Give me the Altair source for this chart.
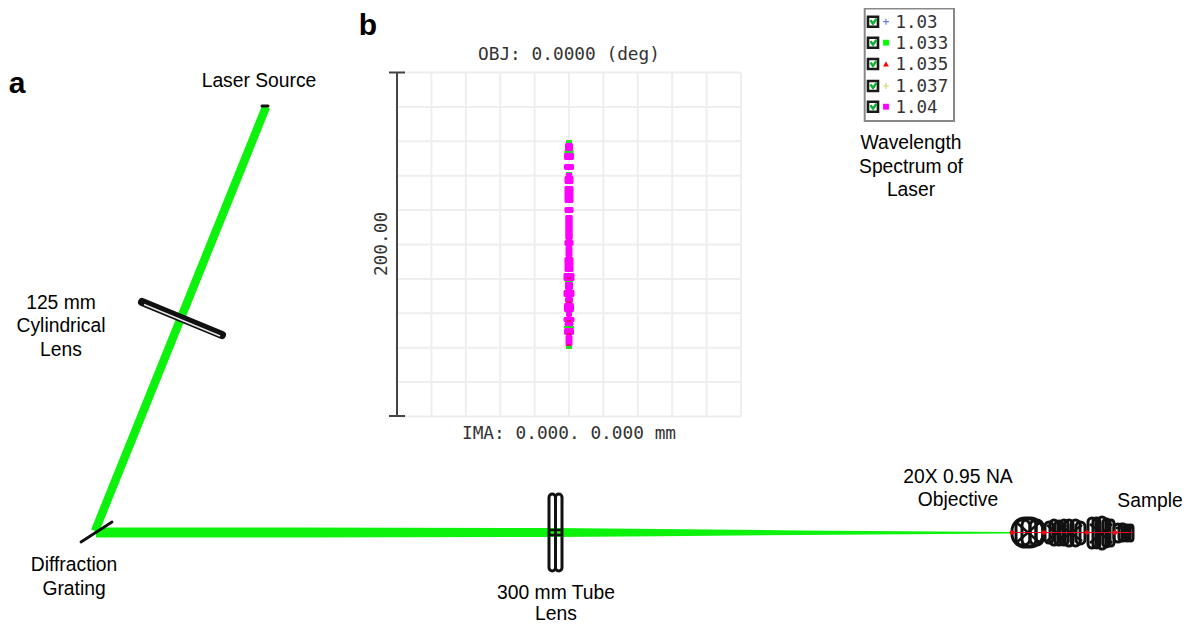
import altair as alt
import pandas as pd

SANS = "Liberation Sans"
MONO = "DejaVu Sans Mono"
GREEN = "#0cf20c"

# ---- text labels
label_text = ["Laser Source", "125 mm", "Cylindrical", "Lens", "Diffraction", "Grating",
              "300 mm Tube", "Lens", "20X 0.95 NA", "Objective", "Sample",
              "Wavelength", "Spectrum of", "Laser"]
label_x = [259, 61, 61, 61, 74, 74, 556, 556, 958, 958, 1150, 911, 911, 911]
label_y = [81, 303, 326, 350, 565, 589, 593, 613.5, 477, 500, 501, 143, 167, 190]
panel_text = ["a", "b"]
panel_x = [17, 368]
panel_y = [84, 26]
mono_text = ["OBJ: 0.0000 (deg)", "IMA: 0.000. 0.000 mm"]
mono_x = [569, 569]
mono_y = [55, 434]

# ---- beams
slant_x = [95, 266]
slant_y = [531, 107]
horiz_x = [96, 300, 555, 660, 800, 1010]
horiz_top = [527.5, 527.5, 528, 529, 530.5, 532]
horiz_bot = [537.5, 537.5, 537, 536.2, 535, 533.5]

# ---- thin optical elements
bar_x0 = [142, 81, 262]
bar_y0 = [302, 542, 106]
bar_x1 = [222, 112, 268]
bar_y1 = [335, 522, 106]
bar_w = [8, 2.8, 3]
slit_x0 = [144]
slit_y0 = [304.5]
slit_x1 = [220]
slit_y1 = [336]

# ---- lens outlines: left, right, top, bottom, corner radius
lens_x0 = [549, 555.5,
           1012, 1016, 1022, 1030, 1036, 1045, 1050, 1055, 1060, 1065, 1071, 1076,
           1088, 1093, 1098, 1103, 1108, 1114, 1119, 1124, 1128]
lens_x1 = [555.5, 562,
           1043, 1030, 1036, 1043, 1043, 1053, 1058, 1063, 1068, 1073, 1080, 1085,
           1096, 1100, 1106, 1110, 1114, 1122, 1126, 1130, 1133]
lens_y0 = [494, 494,
           518, 520, 519, 520, 523, 522, 520, 521, 520, 520, 520, 522,
           518, 518, 517, 519, 520, 524, 524, 525, 525]
lens_y1 = [571, 571,
           547, 545, 546, 545, 542, 543, 545, 545, 545, 546, 546, 544,
           548, 548, 549, 547, 546, 542, 541, 541, 541]
lens_r = [4, 4,
          13, 6, 6, 6, 6, 6, 5, 4, 4, 4, 5, 6,
          6, 6, 5, 5, 5, 4, 3, 3, 3]
cross_x0 = [1016, 1016, 1047, 1047, 1060, 1060, 1090, 1090, 1116, 550, 550]
cross_x1 = [1040, 1040, 1066, 1066, 1082, 1082, 1112, 1112, 1132, 561, 561]
cross_y0 = [522, 543, 525, 541, 525, 541, 524, 543, 528, 530, 535]
cross_y1 = [543, 522, 541, 525, 541, 525, 543, 524, 528, 530, 535]
ray_x = [1010, 1133]
ray_y = [532.5, 532.5]
focus_x = [1012, 1044, 1087, 1115]
focus_y = [532.5, 532.5, 532.5, 532.5]

# ---- spot diagram
grid_n = list(range(11))
grid_x = [397 + 34.4 * i for i in grid_n]
grid_y = [72.5 + 34.4 * i for i in grid_n]
scale_cap_x0 = [389, 389]
scale_cap_x1 = [405, 405]
scale_cap_y = [72.5, 416]
spot_y0 = [143, 153, 164, 176, 173, 186, 207, 215, 240, 246, 257, 273, 282, 290, 297, 303, 312, 317, 322, 328, 335]
spot_y1 = [151, 160, 170, 184, 176, 203, 213, 240, 246, 257, 272, 281, 290, 297, 303, 312, 317, 322, 326, 335, 346]
spot_w = [8, 10, 10, 9, 7, 9, 9, 7.5, 9, 7, 9, 11, 8, 11, 8, 10, 6, 11, 9, 10, 7]
under_y0 = [140, 150, 172, 281, 311, 326, 345]
under_y1 = [144, 154, 175, 283, 313, 328, 349]
under_w = [6, 9, 6, 8, 7, 10, 6]
red_y = [277, 301, 320, 333, 344]

# ---- legend
legend_names = ["1.03", "1.033", "1.035", "1.037", "1.04"]
legend_y = [21.7, 42.7, 64, 86, 106.7]
legend_colors = ["#6a7cf0", "#00ff00", "#ff0000", "#d8d878", "#ff00ff"]
legend_shapes = ["M-1,0H1M0,-1V1", "square", "triangle-up", "M-1,0H1M0,-1V1", "square"]
legend_sizes = [36, 34, 34, 36, 34]
box_x = [864.7, 954]
box_y = [8.5, 121]

X = alt.Scale(domain=[8, 1182], nice=False, zero=False)
Y = alt.Scale(domain=[632, 8], nice=False, zero=False)


def x(f="x"):
    return alt.X(f, type="quantitative", scale=X, axis=None)


def y(f="y"):
    return alt.Y(f, type="quantitative", scale=Y, axis=None)


def seg(x0, y0, x1, y1, **kw):
    d = pd.DataFrame({"x0": x0, "y0": y0, "x1": x1, "y1": y1})
    return alt.Chart(d).mark_rule(**kw).encode(x=x("x0"), y=y("y0"), x2="x1", y2="y1")


def box(x0, x1, y0, y1, **kw):
    d = pd.DataFrame({"x0": x0, "x1": x1, "y0": y0, "y1": y1})
    return alt.Chart(d).mark_rect(**kw).encode(x=x("x0"), x2="x1", y=y("y0"), y2="y1")


def txt(t, xs, ys, **kw):
    d = pd.DataFrame({"t": t, "x": xs, "y": ys})
    return alt.Chart(d).mark_text(**kw).encode(x=x(), y=y(), text="t:N")


layers = []
# spot grid
n = len(grid_n)
layers.append(seg(grid_x[1:], [grid_y[0]] * (n - 1), grid_x[1:], [grid_y[-1]] * (n - 1),
                  color="#eeeeee", strokeWidth=2))
layers.append(seg([grid_x[0]] * n, grid_y, [grid_x[-1]] * n, grid_y, color="#eeeeee", strokeWidth=2))
layers.append(seg([grid_x[0]], [grid_y[0]], [grid_x[0]], [grid_y[-1]], color="#444444", strokeWidth=2))
layers.append(seg(scale_cap_x0, scale_cap_y, scale_cap_x1, scale_cap_y, color="#444444", strokeWidth=2))
# spot
cx = 569
layers.append(box([cx - w / 2 for w in under_w], [cx + w / 2 for w in under_w], under_y0, under_y1, color="#22e022"))
layers.append(box([cx - w / 2 for w in spot_w], [cx + w / 2 for w in spot_w], spot_y0, spot_y1,
                  color="#ff00ff", cornerRadius=1.5))
layers.append(box([cx - 2] * len(red_y), [cx + 2] * len(red_y), red_y, [v + 2 for v in red_y], color="#e01060"))
# beams
layers.append(alt.Chart(pd.DataFrame({"x": slant_x, "y": slant_y})).mark_line(color=GREEN, strokeWidth=8.5)
              .encode(x=x(), y=y()))
layers.append(alt.Chart(pd.DataFrame({"x": horiz_x, "t": horiz_top, "b": horiz_bot})).mark_area(color=GREEN)
              .encode(x=x(), y=y("t"), y2="b"))
# thin elements
for i in range(len(bar_x0)):
    layers.append(seg(bar_x0[i:i + 1], bar_y0[i:i + 1], bar_x1[i:i + 1], bar_y1[i:i + 1],
                      color="#111111", strokeWidth=bar_w[i], strokeCap="round"))
layers.append(seg(slit_x0, slit_y0, slit_x1, slit_y1, color="#e8e8e8", strokeWidth=1.5))
# lenses
d_l = pd.DataFrame({"x0": lens_x0, "x1": lens_x1, "y0": lens_y0, "y1": lens_y1, "r": lens_r})
for r, g in d_l.groupby("r"):
    layers.append(box(g.x0.tolist(), g.x1.tolist(), g.y0.tolist(), g.y1.tolist(),
                      fill="transparent", stroke="#111111", strokeWidth=3, cornerRadius=int(r)))
layers.append(seg(cross_x0, cross_y0, cross_x1, cross_y1, color="#111111", strokeWidth=2.5))
layers.append(seg(ray_x[:1], ray_y[:1], ray_x[1:], ray_y[1:], color="#e00020", strokeWidth=1))
layers.append(alt.Chart(pd.DataFrame({"x": focus_x, "y": focus_y}))
              .mark_point(filled=True, color="#ff0010", size=22, opacity=1, shape="circle").encode(x=x(), y=y()))

# legend
layers.append(box(box_x[:1], box_x[1:], box_y[:1], box_y[1:], fill="white", stroke="#888888", strokeWidth=2))
layers.append(box([868] * 5, [878] * 5, [v - 5 for v in legend_y], [v + 5 for v in legend_y],
                  fill="white", stroke="#1a1a1a", strokeWidth=2.6))
ck = pd.DataFrame([{"row": i, "o": j, "x": 870.5 + dx, "y": v + dy}
                   for i, v in enumerate(legend_y)
                   for j, (dx, dy) in enumerate([(0, -1.5), (2.5, 2), (6, -3)])])
layers.append(alt.Chart(ck).mark_line(color="#10b030", strokeWidth=2.4)
              .encode(x=x(), y=y(), detail="row:N", order="o:Q"))
for i in range(5):
    stroke_only = legend_shapes[i].startswith("M")
    layers.append(alt.Chart(pd.DataFrame({"x": [886], "y": [legend_y[i]]}))
                  .mark_point(shape=legend_shapes[i], size=legend_sizes[i], color=legend_colors[i],
                              filled=not stroke_only, opacity=1, strokeWidth=1.2)
                  .encode(x=x(), y=y()))
layers.append(txt(legend_names, [895.5] * 5, [v + 1 for v in legend_y], font=MONO, fontSize=17.5, align="left",
                  baseline="middle", color="#333333"))

# text
layers.append(txt(label_text, label_x, label_y, font=SANS, fontSize=19.3, align="center", baseline="middle",
                  color="#000000"))
layers.append(txt(panel_text, panel_x, panel_y, font=SANS, fontSize=30, fontWeight="bold", align="center",
                  baseline="middle", color="#000000"))
layers.append(txt(mono_text, mono_x, mono_y, font=MONO, fontSize=17.8, align="center", baseline="middle",
                  color="#333333"))
layers.append(txt(["200.00"], [382], [244], font=MONO, fontSize=17.8, align="center", baseline="middle",
                  angle=270, color="#333333"))

chart = alt.layer(*layers).properties(
    width=1174, height=624, padding=0, background="white",
    autosize=alt.AutoSizeParams(type="none"),
).configure_view(stroke=None)

chart.save("out.html", embed_options={"renderer": "svg", "actions": False})
